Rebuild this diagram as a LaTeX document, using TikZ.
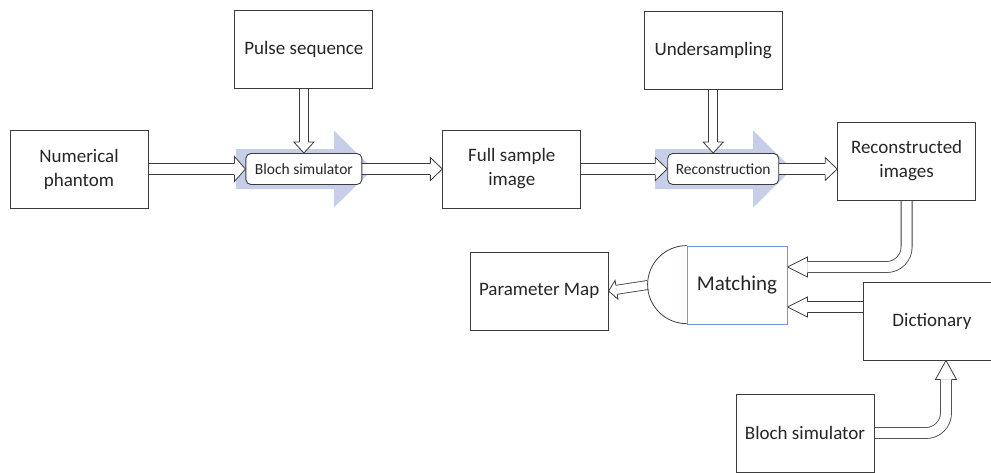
\documentclass[tikz,border=0pt]{standalone}
\usepackage{fontspec}
\setmainfont{Carlito}
\usetikzlibrary{positioning,calc,backgrounds,decorations.markings}
\definecolor{flowblue}{RGB}{198,206,234}
\definecolor{matchblue}{RGB}{112,150,222}
\definecolor{boxgray}{RGB}{60,60,60}

\tikzset{
  block/.style={draw=boxgray, line width=0.9pt, fill=white, text=black!85, minimum width=138pt, minimum height=78pt, align=center, inner sep=2pt, font=\fontsize{19}{24}\selectfont},
  stage/.style={draw=boxgray, line width=0.9pt, fill=white, text=black!85, rounded corners=5pt, minimum height=31pt, inner sep=2pt, font=\fontsize{15.5}{18}\selectfont},
  % hollow arrow: {half shaft}{head length}{half head}
  hollow/.style n args={3}{draw=boxgray, line width={2*#1+0.8pt}, shorten >=#2,
    postaction={draw=white, line width={2*#1-0.8pt}, shorten >=#2},
    postaction={decorate, shorten >=0pt, decoration={markings, mark=at position 1 with {\draw[sharp corners, line width=0.8pt, draw=boxgray, fill=white, shorten >=0pt] (-#2,#1) -- (-#2,#3) -- (0pt,0pt) -- (-#2,-#3) -- (-#2,-#1);}}}},
}

\begin{document}
\begin{tikzpicture}[x=1pt, y=-1pt]
\useasboundingbox (0,0) rectangle (991,472);

% top row
\node[block] (phantom) at (79,169) {Numerical\\phantom};
\node[stage, minimum width=116pt, right=97pt of phantom] (bloch) {Bloch simulator};
\node[block, right=80pt of bloch] (full) {Full sample\\image};
\node[stage, minimum width=111pt, right=86pt of full] (recon) {Reconstruction};
\node[block, right=58pt of recon, yshift=8pt] (recimg) {Reconstructed\\images};
\node[block, above=64pt of bloch] (pulse) {Pulse sequence};
\node[block, above=63pt of recon, xshift=-10pt] (under) {Undersampling};

% matching part
\node[draw=matchblue, line width=0.8pt, fill=white, text=black!85, minimum width=100pt, minimum height=78pt, font=\fontsize{21}{24}\selectfont] (match) at (737,285) {Matching};
\draw[boxgray, line width=0.8pt] (match.north west) arc[start angle=90, end angle=270, radius=39pt];
\coordinate (matchtip) at ($(match.west)+(-39,0)$);
\node[block, left=78pt of match, yshift=-6pt] (param) {Parameter Map};
\node[block] (dict) at (932,321) {Dictionary};
\node[block] (bloch2) at (805,433) {Bloch simulator};

\coordinate (m1) at ($(match.east)+(0,-18)$);
\coordinate (m2) at ($(match.east)+(0,22)$);
\coordinate (d1) at ($(dict.south)+(14,0)$);

\begin{scope}[on background layer]
  \foreach \s in {bloch,recon}
    \fill[flowblue] ($(\s)+(-68,-20)$) -- ($(\s)+(30,-20)$) -- ($(\s)+(30,-38.5)$) -- ($(\s)+(69,0)$) -- ($(\s)+(30,38.5)$) -- ($(\s)+(30,20)$) -- ($(\s)+(-68,20)$) -- cycle;

  \draw[hollow={5.5pt}{11pt}{12.5pt}] (phantom) -- (bloch);
  \draw[hollow={5.5pt}{12pt}{11.5pt}] (bloch) -- (full);
  \draw[hollow={5.5pt}{12pt}{11.5pt}] (full) -- (recon);
  \draw[hollow={5.5pt}{12pt}{11.5pt}] (recon.east) -- (recon.east -| recimg.west);
  \draw[hollow={4.5pt}{11pt}{10pt}] (pulse) -- (bloch);
  \draw[hollow={4.5pt}{11pt}{10pt}] (under.south) -- (under.south |- recon.north);
  \draw[hollow={5.5pt}{20pt}{10pt}, rounded corners=20pt] (recimg.south) |- (m1);
  \draw[hollow={5.5pt}{20pt}{10pt}] (m2 -| dict.west) -- (m2);
  \draw[hollow={5.5pt}{19pt}{10.5pt}, rounded corners=20pt] (bloch2.east) -| (d1);
  \draw[hollow={4.5pt}{8pt}{9.5pt}] (matchtip) -- (param.east);
\end{scope}
\end{tikzpicture}
\end{document}
